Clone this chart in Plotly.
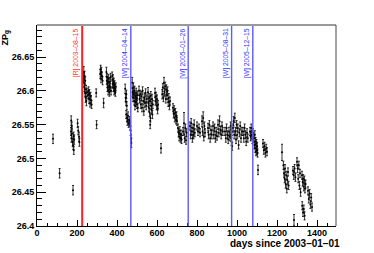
import plotly.graph_objects as go

# ---- data (days since 2003-01-01, ZP_g, error) ----
days = [
    80, 113,
    170, 171, 172, 174, 175, 178, 180, 181, 183, 184, 186,
    203, 206, 210, 212,
    232, 234, 235, 237, 238, 240, 241, 243, 245, 247, 250, 255, 258, 260, 262, 265, 268, 270, 273,
    296, 298,
    316, 318, 320, 322, 325, 328, 333,
    347, 349, 351, 352, 354, 356, 358, 360, 362, 364, 366, 368, 370,
    376, 378, 380, 382, 384, 386, 388, 390, 392, 394,
    441, 443, 445, 447, 449, 446, 450, 452, 455, 458,
    463, 466, 468, 470, 472,
    476, 478, 480, 482, 484, 486, 488, 490, 492, 494, 496, 498, 500, 502, 504,
    510, 513, 516, 519, 522, 525, 528, 531, 534, 537, 540, 543, 546, 549,
    555, 557, 559, 561, 563, 565, 567, 569, 571, 573, 575, 577, 579, 566,
    590, 592, 595, 598, 600, 603, 605,
    620,
    626, 629, 632, 635, 638, 641, 644, 647, 650, 653, 656, 659, 662, 665,
    680, 683, 686, 689, 692, 695, 698, 700,
    705, 708, 711, 714, 717, 720, 723,
    730, 735, 738, 742, 745, 748,
    765, 768, 771, 774, 777, 780, 783, 786, 789,
    800, 805, 810, 815,
    825, 828, 831, 834, 837, 840,
    855, 858, 862, 866, 870, 874,
    880, 884, 888, 892, 896, 900,
    905, 909, 913, 917, 921, 925, 929,
    940, 944, 948, 952, 956, 960, 964,
    968, 970, 972, 974, 976,
    980, 983, 986, 989, 992, 995, 998, 1001, 1004, 1008, 1012, 1016, 1020, 1024,
    1030, 1034, 1038, 1042, 1046, 1050, 1054,
    1065, 1068, 1071, 1074, 1077, 1080,
    1085, 1087, 1089, 1091, 1093, 1095, 1097, 1099, 1101, 1103,
    1105,
    1130, 1134, 1138, 1142, 1146, 1150,
    1225,
    1232, 1235, 1238, 1240, 1243, 1246, 1249, 1252, 1255, 1258,
    1280, 1284, 1288, 1292,
    1285,
    1300, 1303, 1306, 1309, 1312, 1315, 1318,
    1325, 1328, 1331, 1334, 1337, 1340, 1343,
    1326, 1330, 1334, 1338,
    1355, 1359, 1363, 1367, 1371, 1375,
]
zp = [
    26.529, 26.478,
    26.540, 26.556, 26.530, 26.548, 26.537, 26.524, 26.453, 26.519, 26.533, 26.512, 26.528,
    26.552, 26.541, 26.532, 26.524,
    26.620, 26.628, 26.612, 26.605, 26.622, 26.597, 26.615, 26.590, 26.602, 26.585, 26.598, 26.594, 26.600, 26.588, 26.596, 26.582, 26.592, 26.586, 26.580,
    26.597, 26.550,
    26.625, 26.632, 26.618, 26.628, 26.622, 26.615, 26.582,
    26.628, 26.615, 26.620, 26.605, 26.612, 26.600, 26.618, 26.608, 26.598, 26.613, 26.605, 26.620, 26.600,
    26.622, 26.610, 26.617, 26.605, 26.613, 26.600, 26.609, 26.603, 26.598, 26.606,
    26.603, 26.590, 26.584, 26.595, 26.578, 26.565, 26.560, 26.555, 26.563, 26.552,
    26.556, 26.548, 26.541, 26.530, 26.523,
    26.612, 26.598, 26.590, 26.605, 26.595, 26.585, 26.600, 26.578, 26.592, 26.583, 26.597, 26.588, 26.580, 26.594, 26.575,
    26.600, 26.588, 26.595, 26.580, 26.592, 26.575, 26.600, 26.585, 26.570, 26.590, 26.582, 26.597, 26.578, 26.588,
    26.598, 26.583, 26.575, 26.590, 26.568, 26.585, 26.560, 26.593, 26.578, 26.572, 26.588, 26.565, 26.580, 26.550,
    26.597, 26.585, 26.592, 26.578, 26.588, 26.572, 26.580,
    26.515,
    26.595, 26.605, 26.590, 26.612, 26.598, 26.607, 26.588, 26.602, 26.593, 26.600, 26.583, 26.590, 26.578, 26.585,
    26.575, 26.566, 26.572, 26.560, 26.568, 26.557, 26.563, 26.555,
    26.545, 26.538, 26.532, 26.541, 26.530, 26.536, 26.528,
    26.540, 26.552, 26.530, 26.545, 26.527, 26.538,
    26.548, 26.535, 26.552, 26.540, 26.530, 26.545, 26.535, 26.550, 26.538,
    26.548, 26.540, 26.545, 26.538,
    26.555, 26.540, 26.560, 26.532, 26.548, 26.538,
    26.545, 26.535, 26.550, 26.530, 26.542, 26.535,
    26.548, 26.535, 26.545, 26.530, 26.540, 26.533,
    26.550, 26.538, 26.555, 26.542, 26.535, 26.548, 26.540,
    26.540, 26.530, 26.545, 26.535, 26.528, 26.540, 26.532,
    26.548, 26.535, 26.525, 26.540, 26.518,
    26.545, 26.555, 26.535, 26.560, 26.540, 26.528, 26.550, 26.535, 26.545, 26.520, 26.538, 26.548, 26.530, 26.540,
    26.540, 26.530, 26.545, 26.535, 26.525, 26.538, 26.530,
    26.540, 26.532, 26.545, 26.535, 26.528, 26.538,
    26.530, 26.520, 26.535, 26.515, 26.525, 26.510, 26.522, 26.512, 26.518, 26.508,
    26.483,
    26.522, 26.512, 26.518, 26.508, 26.515, 26.510,
    26.509,
    26.490, 26.478, 26.470, 26.485, 26.462, 26.475, 26.455, 26.468, 26.480, 26.460,
    26.482, 26.475, 26.485, 26.472,
    26.409,
    26.495, 26.485, 26.470, 26.490, 26.460, 26.478, 26.450,
    26.475, 26.465, 26.470, 26.458, 26.468, 26.455, 26.462,
    26.430, 26.420, 26.425, 26.415,
    26.452, 26.440, 26.448, 26.432, 26.442, 26.428,
]
zp_err = [
    0.007, 0.007,
    0.006, 0.007, 0.006, 0.006, 0.008, 0.006, 0.007, 0.006, 0.006, 0.006, 0.007,
    0.006, 0.006, 0.007, 0.006,
    0.007, 0.008, 0.006, 0.006, 0.007, 0.006, 0.006, 0.007, 0.006, 0.007, 0.006, 0.006, 0.006, 0.007, 0.006, 0.006, 0.006, 0.007, 0.006,
    0.006, 0.006,
    0.007, 0.006, 0.006, 0.007, 0.006, 0.006, 0.007,
    0.007, 0.006, 0.006, 0.006, 0.007, 0.006, 0.006, 0.006, 0.006, 0.007, 0.006, 0.006, 0.006,
    0.006, 0.006, 0.007, 0.006, 0.006, 0.006, 0.006, 0.007, 0.006, 0.006,
    0.007, 0.006, 0.006, 0.006, 0.006, 0.006, 0.006, 0.006, 0.006, 0.006,
    0.006, 0.006, 0.007, 0.006, 0.007,
    0.008, 0.006, 0.006, 0.007, 0.006, 0.006, 0.007, 0.006, 0.006, 0.006, 0.007, 0.006, 0.006, 0.006, 0.006,
    0.007, 0.006, 0.006, 0.006, 0.007, 0.006, 0.006, 0.006, 0.006, 0.007, 0.006, 0.006, 0.006, 0.006,
    0.007, 0.006, 0.006, 0.006, 0.006, 0.007, 0.006, 0.006, 0.006, 0.006, 0.007, 0.006, 0.006, 0.006,
    0.007, 0.006, 0.006, 0.006, 0.006, 0.006, 0.006,
    0.007,
    0.007, 0.006, 0.006, 0.008, 0.006, 0.006, 0.006, 0.007, 0.006, 0.006, 0.006, 0.006, 0.006, 0.006,
    0.006, 0.006, 0.006, 0.006, 0.006, 0.006, 0.006, 0.006,
    0.006, 0.006, 0.006, 0.006, 0.006, 0.006, 0.006,
    0.006, 0.016, 0.006, 0.006, 0.006, 0.006,
    0.006, 0.006, 0.007, 0.006, 0.006, 0.006, 0.006, 0.007, 0.006,
    0.006, 0.006, 0.006, 0.006,
    0.008, 0.006, 0.009, 0.006, 0.006, 0.006,
    0.007, 0.006, 0.006, 0.006, 0.006, 0.006,
    0.006, 0.006, 0.006, 0.006, 0.006, 0.006,
    0.007, 0.006, 0.008, 0.006, 0.006, 0.006, 0.006,
    0.006, 0.006, 0.006, 0.006, 0.006, 0.006, 0.006,
    0.006, 0.006, 0.006, 0.006, 0.006,
    0.006, 0.007, 0.006, 0.007, 0.006, 0.006, 0.006, 0.006, 0.006, 0.006, 0.006, 0.006, 0.006, 0.006,
    0.006, 0.006, 0.006, 0.006, 0.006, 0.006, 0.006,
    0.006, 0.006, 0.006, 0.006, 0.006, 0.006,
    0.006, 0.006, 0.006, 0.006, 0.006, 0.006, 0.006, 0.006, 0.006, 0.006,
    0.007,
    0.006, 0.006, 0.006, 0.006, 0.006, 0.006,
    0.012,
    0.006, 0.006, 0.006, 0.006, 0.006, 0.006, 0.006, 0.006, 0.006, 0.006,
    0.006, 0.006, 0.006, 0.006,
    0.008,
    0.006, 0.006, 0.006, 0.006, 0.006, 0.006, 0.006,
    0.006, 0.006, 0.006, 0.006, 0.006, 0.006, 0.006,
    0.006, 0.006, 0.006, 0.006,
    0.006, 0.006, 0.006, 0.006, 0.006, 0.006,
]
assert len(days) == len(zp) == len(zp_err)

event_days = [226, 469, 756, 973, 1079]
event_labels = ["[R] 2003–08–15", "[W] 2004–04–14", "[W] 2005–01–26",
                "[W] 2005–08–31", "[W] 2005–12–15"]
event_colors = ["#ff2020", "#5a5aff", "#5a5aff", "#5a5aff", "#5a5aff"]
event_text_colors = ["#ff3030", "#3030ff", "#3030ff", "#3030ff", "#3030ff"]

y_ticks = [26.4, 26.45, 26.5, 26.55, 26.6, 26.65]
y_ticktext = ["26.4", "26.45", "26.5", "26.55", "26.6", "26.65"]
x_ticks = [0, 200, 400, 600, 800, 1000, 1200, 1400]

FONT = "Liberation Sans, Arial, sans-serif"

# page body margin is removed below, so figure pixels == page pixels
W, H = 374, 253
# plot area in page pixels: x 37..336, y 25..226
L, T = 37, 25
R = W - 336
B = H - 226
pw, ph = W - L - R, H - T - B

def px_x(p):
    return (p - L) / pw

def px_y(p):
    return (H - B - p) / ph

fig = go.Figure()
fig.add_trace(go.Scatter(
    x=days, y=zp, mode="markers",
    marker=dict(color="black", size=2),
    error_y=dict(type="data", array=zp_err, color="black", thickness=0.8, width=1),
    showlegend=False,
))

shapes = []
annotations = []
for d, lab, c, tc in zip(event_days, event_labels, event_colors, event_text_colors):
    shapes.append(dict(type="line", xref="x", yref="paper", x0=d, x1=d, y0=0, y1=1,
                       line=dict(color=c, width=2 if lab.startswith("[R]") else 1.4)))
    annotations.append(dict(x=d, y=px_y(27.5), xref="x", yref="paper", text=lab,
                            textangle=-90, showarrow=False, xanchor="right", yanchor="top",
                            xshift=-1, borderpad=0,
                            font=dict(family=FONT, size=6.8, color=tc)))

# frame top and right
shapes.append(dict(type="line", xref="paper", yref="paper", x0=0, x1=1, y0=1, y1=1,
                   line=dict(color="#999999", width=2)))
shapes.append(dict(type="line", xref="paper", yref="paper", x0=1, x1=1, y0=0, y1=1,
                   line=dict(color="#444444", width=1)))

annotations.append(dict(x=px_x(342), y=px_y(243.5), xref="paper", yref="paper",
                        text="days since 2003–01–01",
                        showarrow=False, xanchor="right", yanchor="middle",
                        font=dict(family=FONT, size=10, color="black", weight="bold")))
annotations.append(dict(text="ZP<sub>g</sub>", textangle=-90, showarrow=False,
                        xref="paper", yref="paper", x=px_x(5.5), y=px_y(28),
                        xanchor="center", yanchor="top",
                        font=dict(family=FONT, size=9, color="black", weight="bold")))

fig.update_layout(
    width=W, height=H,
    margin=dict(l=L, r=R, t=T, b=B, pad=0, autoexpand=False),
    paper_bgcolor="white", plot_bgcolor="white",
    font=dict(family=FONT, size=8.5, color="black"),
    shapes=shapes, annotations=annotations,
    hovermode=False,
    xaxis=dict(range=[0, 1495], tickvals=x_ticks, ticks="inside", ticklen=6, tickwidth=1,
               tickcolor="black", showline=True, linecolor="black", linewidth=1,
               showgrid=False, zeroline=False, ticklabelstandoff=-2, automargin=False,
               tickfont=dict(family=FONT, size=9, color="black", weight="bold"),
               minor=dict(dtick=50, tick0=0, ticks="inside", ticklen=3, tickcolor="black", showgrid=False)),
    yaxis=dict(range=[26.4, 26.6975], tickvals=y_ticks, ticktext=y_ticktext,
               ticks="inside", ticklen=9, tickwidth=1, tickcolor="black",
               showline=True, linecolor="black", linewidth=1,
               showgrid=False, zeroline=False, automargin=False,
               tickfont=dict(family=FONT, size=9, color="black", weight="bold"),
               minor=dict(dtick=0.01, tick0=26.4, ticks="inside", ticklen=4.5, tickcolor="black", showgrid=False)),
)

fig.write_html("out.html", config={"displayModeBar": False},
               post_script="document.body.style.margin='0';")
